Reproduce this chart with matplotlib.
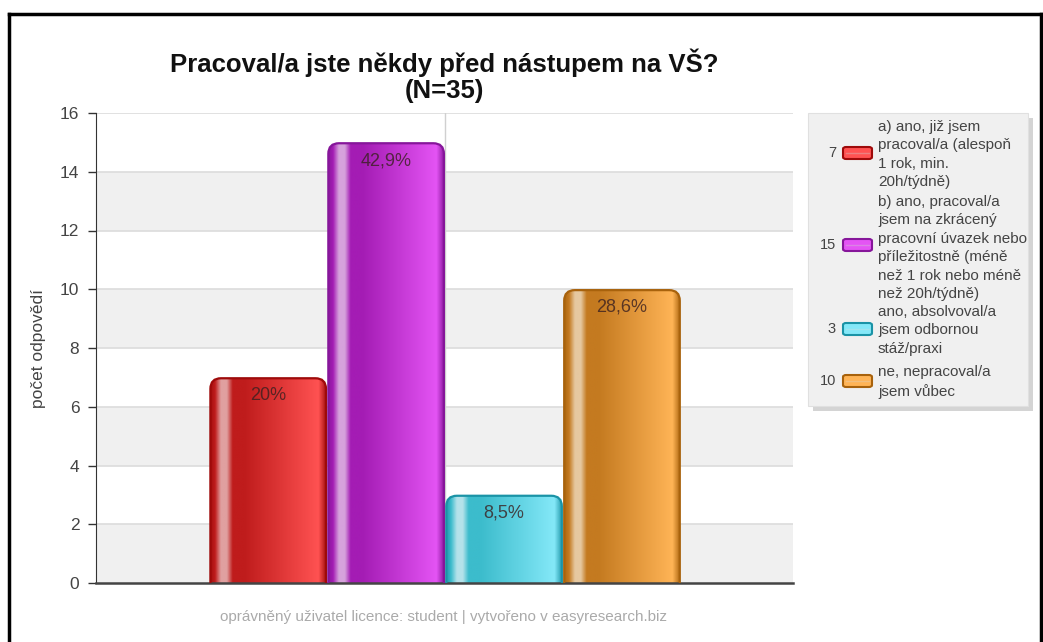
import numpy as np
import matplotlib
matplotlib.use("Agg")
import matplotlib.pyplot as plt
from matplotlib.patches import FancyBboxPatch, Rectangle
from matplotlib.colors import LinearSegmentedColormap
from matplotlib.lines import Line2D

plt.rcParams['font.family'] = ['Liberation Sans', 'DejaVu Sans']

# data
counts = [7, 15, 3, 10]
percents = ["20%", "42,9%", "8,5%", "28,6%"]
legend_labels = [
    "a) ano, již jsem\npracoval/a (alespoň\n1 rok, min.\n20h/týdně)",
    "b) ano, pracoval/a\njsem na zkrácený\npracovní úvazek nebo\npříležitostně (méně\nnež 1 rok nebo méně\nnež 20h/týdně)",
    "ano, absolvoval/a\njsem odbornou\nstáž/praxi",
    "ne, nepracoval/a\njsem vůbec",
]
yticks = [0, 2, 4, 6, 8, 10, 12, 14, 16]

# gradient stops per bar: edge, highlight, dark start, light end
palettes = [
    ("#9e0a0a", "#e0a0a0", "#bf1c1c", "#ff5252"),
    ("#86169a", "#d6a2dc", "#a41cb4", "#e454f4"),
    ("#1a93a6", "#b4e2ea", "#3cbccc", "#84e8f8"),
    ("#a8620c", "#e6c8a0", "#c47a20", "#ffb456"),
]

W, H = 1043, 642
fig = plt.figure(figsize=(W / 100, H / 100), dpi=100)


def fx(px):
    return px / W


def fy(py):
    return 1 - py / H


ax = fig.add_axes([fx(96), fy(583), fx(793) - fx(96), fy(113) - fy(583)])
ax.set_xlim(-1.46, 4.45)
ax.set_ylim(0, 16)

# alternating bands
for lo in range(0, 16, 4):
    ax.axhspan(lo, lo + 2, color="#f0f0f0", zorder=0, lw=0)
for t in yticks[1:]:
    ax.axhline(t, color="#dcdcdc", lw=1.2, zorder=0.5)
ax.axvline(1.5, color="#d0d0d0", lw=1, zorder=0.6)

x = np.arange(len(counts))
bars = ax.bar(x, counts, width=1.0, color="none", zorder=1)

grad_pos = [0.0, 0.05, 0.10, 0.15, 0.20, 0.30, 0.93, 1.0]
for b, (edge, hi, dark, light), pct, v in zip(bars, palettes, percents, counts):
    x0, w = b.get_x(), b.get_width()
    patch = FancyBboxPatch((x0 + 0.01, -1), w - 0.02, v + 1 - 0.03,
                           boxstyle="round,pad=0,rounding_size=0.09",
                           mutation_aspect=4.0, fc="none", ec=edge, lw=1.6,
                           zorder=3)
    ax.add_patch(patch)
    cmap = LinearSegmentedColormap.from_list(
        "g", list(zip(grad_pos, [edge, dark, hi, hi, dark, dark, light, edge])))
    img = ax.imshow(np.linspace(0, 1, 256).reshape(1, -1), cmap=cmap,
                    extent=[x0, x0 + w, 0, v], aspect="auto", zorder=2,
                    interpolation="bilinear")
    img.set_clip_path(patch)
    ax.text(x0 + w / 2, v - 0.62, pct, ha="center", va="center",
            fontsize=13, color="#3a2020", alpha=0.8, zorder=4)

ax.set_yticks(yticks)
ax.set_xticks([])
ax.tick_params(axis="y", length=6, width=1, color="#333333", labelsize=12.5,
               labelcolor="#444444", pad=6)
for s in ["top", "right"]:
    ax.spines[s].set_visible(False)
ax.spines["left"].set_color("#333333")
ax.spines["bottom"].set_color("#444444")
ax.spines["bottom"].set_linewidth(1.8)
ax.set_ylabel("počet odpovědí", fontsize=12.5, color="#444444", labelpad=10)

# title
fig.text(fx(444), fy(76), "Pracoval/a jste někdy před nástupem na VŠ?\n(N=35)",
         ha="center", va="center", fontsize=18.5, fontweight="bold",
         color="#111111", linespacing=1.1)

# footer
fig.text(fx(443), fy(617),
         "oprávněný uživatel licence: student | vytvořeno v easyresearch.biz",
         ha="center", va="center", fontsize=11, color="#aaaaaa")

# outer border
fig.add_artist(Line2D([fx(9), fx(9)], [0, fy(14)], color="black", lw=2.5))
fig.add_artist(Line2D([fx(9), fx(1041)], [fy(14), fy(14)], color="black", lw=2.5))
fig.add_artist(Line2D([fx(1041), fx(1041)], [0, fy(14)], color="black", lw=2.5))

# legend box with shadow
fig.add_artist(Rectangle((fx(813), fy(411)), fx(1033) - fx(813), fy(118) - fy(411),
                         fc="#b8b8b8", ec="none", alpha=0.6))
fig.add_artist(Rectangle((fx(808), fy(406)), fx(1028) - fx(808), fy(113) - fy(406),
                         fc="#f0f0f0", ec="#e0e0e0", lw=0.8))

entries_y = [153, 245, 329, 381]   # swatch centre, pixels
text_top = [128, 203, 313, 373]
for c, lab, (edge, hi, dark, light), sy, ty in zip(counts, legend_labels, palettes,
                                                   entries_y, text_top):
    fig.text(fx(836), fy(sy), str(c), ha="right", va="center", fontsize=10.5,
             color="#444444")
    fig.add_artist(FancyBboxPatch((fx(843), fy(sy + 6)), fx(872) - fx(843),
                                  fy(sy - 6) - fy(sy + 6),
                                  boxstyle="round,pad=0,rounding_size=0.003",
                                  fc=light, ec=edge, lw=1.5,
                                  transform=fig.transFigure))
    fig.add_artist(Line2D([fx(846), fx(869)], [fy(sy), fy(sy)], color=hi,
                          lw=1, alpha=0.6))
    fig.text(fx(878), fy(ty - 8), lab, ha="left", va="top", fontsize=11,
             color="#444444", linespacing=1.4)

fig.savefig("out.png", dpi=100)
